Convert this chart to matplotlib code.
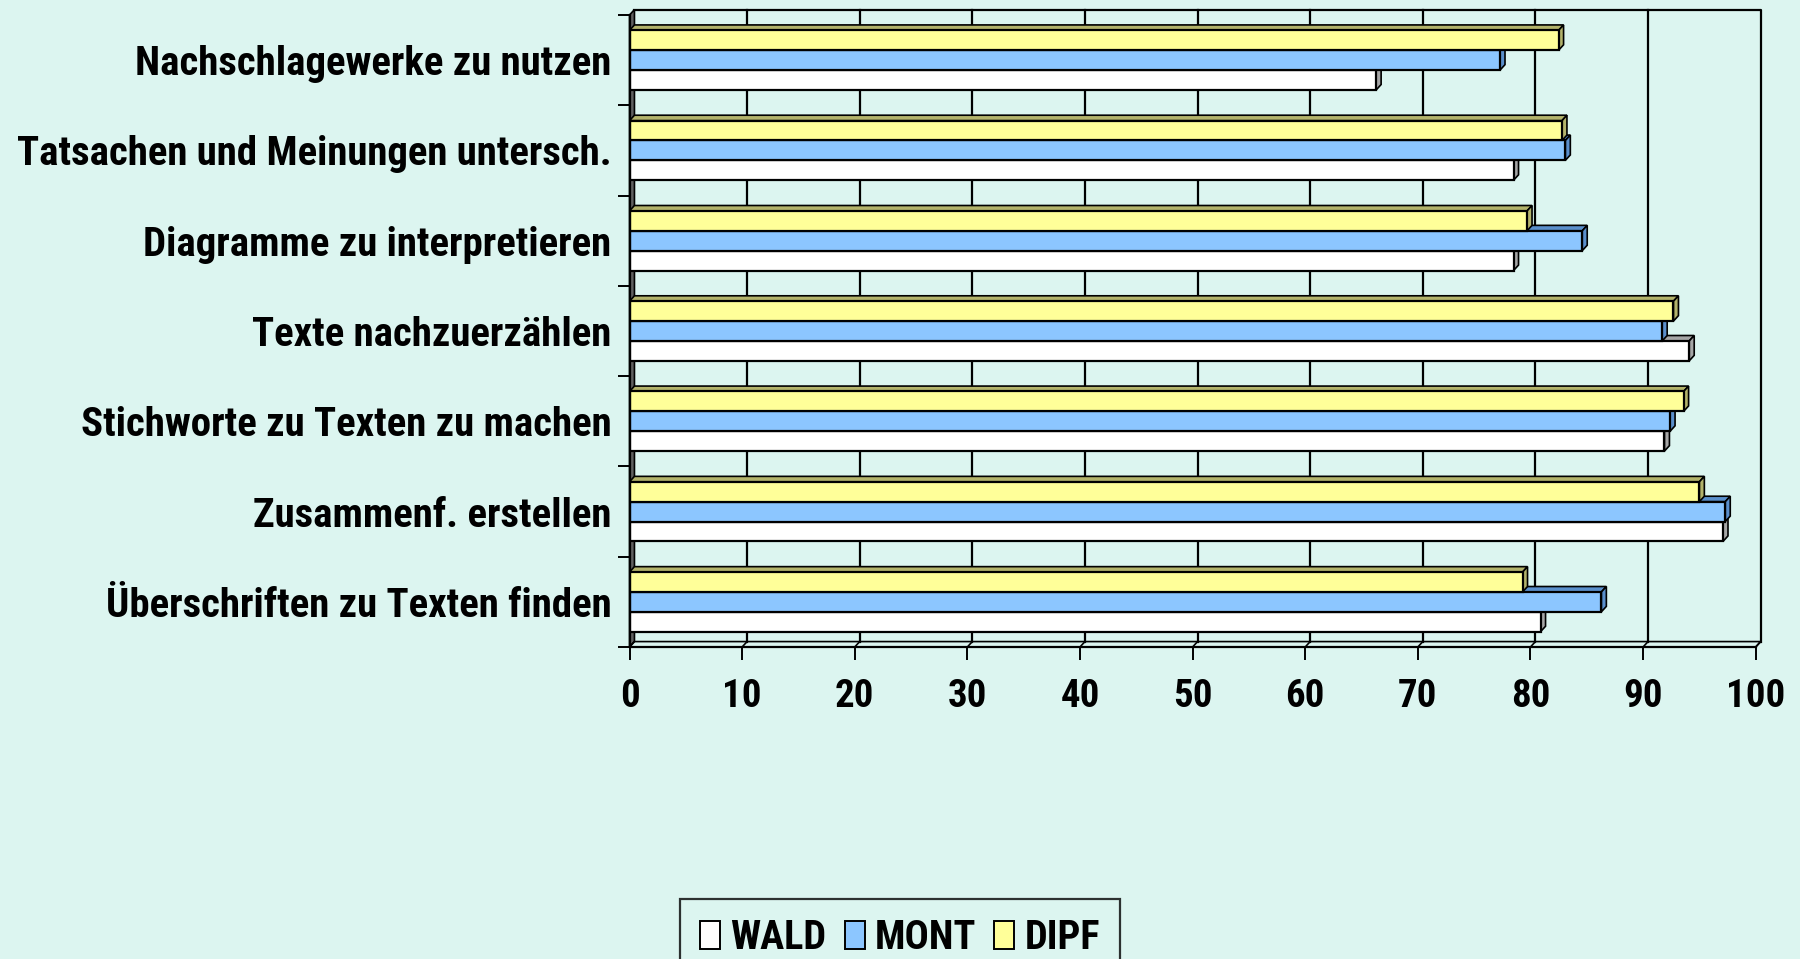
import matplotlib
matplotlib.use("Agg")
import matplotlib.pyplot as plt
from matplotlib import font_manager
from matplotlib.patches import Polygon, Patch

# data (top to bottom as shown)
categories = ["Nachschlagewerke zu nutzen", "Tatsachen und Meinungen untersch.",
              "Diagramme zu interpretieren", "Texte nachzuerzählen",
              "Stichworte zu Texten zu machen", "Zusammenf. erstellen",
              "Überschriften zu Texten finden"]
wald = [66.3, 78.5, 78.5, 94.1, 91.9, 97.1, 80.9]
mont = [77.3, 83.1, 84.6, 91.7, 92.4, 97.3, 86.3]
dipf = [82.5, 82.8, 79.7, 92.7, 93.6, 95.0, 79.3]
series = ["WALD", "MONT", "DIPF"]
xticks = [0, 10, 20, 30, 40, 50, 60, 70, 80, 90, 100]

# reverse so the first category ends on top
categories = categories[::-1]
wald, mont, dipf = wald[::-1], mont[::-1], dipf[::-1]


def bold_ok(name):
    for f in font_manager.fontManager.ttflist:
        if f.name == name:
            w = f.weight
            if w == "bold" or (isinstance(w, int) and w >= 600):
                return True
    return False


# the original uses a narrow bold face (Arial Narrow); take the closest one installed with a bold
fam = "Liberation Sans"
for cand in ["Liberation Sans Narrow", "Arial Narrow", "Archivo Narrow", "Roboto Condensed",
             "PT Sans Narrow", "Fira Sans Condensed", "Barlow Semi Condensed",
             "IBM Plex Sans Condensed", "Encode Sans Condensed", "DejaVu Sans Condensed"]:
    if bold_ok(cand):
        fam = cand
        break
plt.rcParams["font.family"] = [fam, "DejaVu Sans"]
plt.rcParams["font.weight"] = "bold"

bg = "#dcf5f0"
front = ["#ffffff", "#8cc6ff", "#ffff99"]
shade = ["#a6a6a6", "#5a8fcc", "#b3b36b"]

fig = plt.figure(figsize=(18, 9.59), dpi=100, facecolor=bg)
ax = fig.add_axes([629.5 / 1800, 1 - 647 / 959, 1126.2 / 1800, 632 / 959])
ax.set_facecolor(bg)
ax.patch.set_alpha(0)
renderer = fig.canvas.get_renderer()


def fit_size(text, target_px, start=29):
    # font size that makes `text` about target_px wide
    t = fig.text(0, 0, text, fontsize=start, fontweight="bold")
    w = t.get_window_extent(renderer).width
    t.remove()
    return start * target_px / w


lab_fs = min(fit_size("Tatsachen und Meinungen untersch.", 596), 31)
tick_fs = min(fit_size("100", 59), 31)
leg_fs = min(fit_size("WALD", 103), 29)

n = len(categories)
dx, dy = 0.44, 0.06   # depth of the fake 3d
h = 0.22
ax.set_xlim(0, 100)
ax.set_ylim(-0.5, n - 0.5)

# walls and floor
lw = 1.6
ax.add_patch(Polygon([(0, -0.5), (dx, -0.5 + dy), (dx, n - 0.5 + dy), (0, n - 0.5)],
                     closed=True, fc="#606060", ec="black", lw=1.2, clip_on=False, zorder=1))
ax.add_patch(Polygon([(0, -0.5), (100, -0.5), (100 + dx, -0.5 + dy), (dx, -0.5 + dy)],
                     closed=True, fc=bg, ec="black", lw=1.2, clip_on=False, zorder=1))
for x in xticks[1:-1]:
    ax.plot([x + dx, x + dx], [-0.5 + dy, n - 0.5 + dy], color="black", lw=lw, zorder=1, clip_on=False)
for x in xticks:
    ax.plot([x, x + dx], [-0.5, -0.5 + dy], color="black", lw=1.2, zorder=1, clip_on=False)
ax.plot([dx, 100 + dx, 100 + dx], [n - 0.5 + dy, n - 0.5 + dy, -0.5 + dy],
        color="black", lw=lw, zorder=1, clip_on=False)

# bars, drawn bottom series first so the upper front faces hide the top faces below
ys = list(range(n))
for k, vals in enumerate([wald, mont, dipf]):
    offs = (k - 1) * h
    pos = [y + offs for y in ys]
    ax.barh(pos, vals, height=h, color=front[k], edgecolor="black", linewidth=1.6,
            zorder=2 + k * 2, label=series[k])
    for y, v in zip(pos, vals):
        y0, y1 = y - h / 2, y + h / 2
        ax.add_patch(Polygon([(0, y1), (dx, y1 + dy), (v + dx, y1 + dy), (v, y1)],
                             closed=True, fc=shade[k], ec="black", lw=1.2, zorder=1.5 + k * 2))
        ax.add_patch(Polygon([(v, y0), (v + dx, y0 + dy), (v + dx, y1 + dy), (v, y1)],
                             closed=True, fc=shade[k], ec="black", lw=1.2, zorder=1.5 + k * 2))

for s in ["top", "right"]:
    ax.spines[s].set_visible(False)
for s in ["left", "bottom"]:
    ax.spines[s].set_linewidth(lw)
    ax.spines[s].set_zorder(10)

ax.set_xticks(xticks)
ax.set_xticklabels([str(t) for t in xticks], fontsize=tick_fs, fontweight="bold")
ax.tick_params(axis="x", direction="out", length=9.5, width=1.4, pad=13)
ax.set_yticks(ys)
ax.set_yticklabels(categories, fontsize=lab_fs, fontweight="bold")
ax.tick_params(axis="y", which="major", length=0, pad=13)
ax.set_yticks([y - 0.5 for y in range(n + 1)], minor=True)
ax.tick_params(axis="y", which="minor", direction="out", length=8.6, width=1.4)

handles = [Patch(fc=front[k], ec="black", lw=1.4) for k in range(3)]
leg = fig.legend(handles, series, loc="upper center", bbox_to_anchor=(900 / 1800, 1 - 899 / 959),
                 ncol=3, fontsize=leg_fs, frameon=True, fancybox=False, edgecolor="black",
                 facecolor=bg, handlelength=0.5, handleheight=0.7, handletextpad=0.25,
                 columnspacing=0.45, borderpad=0.5, borderaxespad=0)
leg.get_frame().set_linewidth(1.6)
for t in leg.get_texts():
    t.set_fontweight("bold")

fig.savefig("out.png", dpi=100, facecolor=bg)
